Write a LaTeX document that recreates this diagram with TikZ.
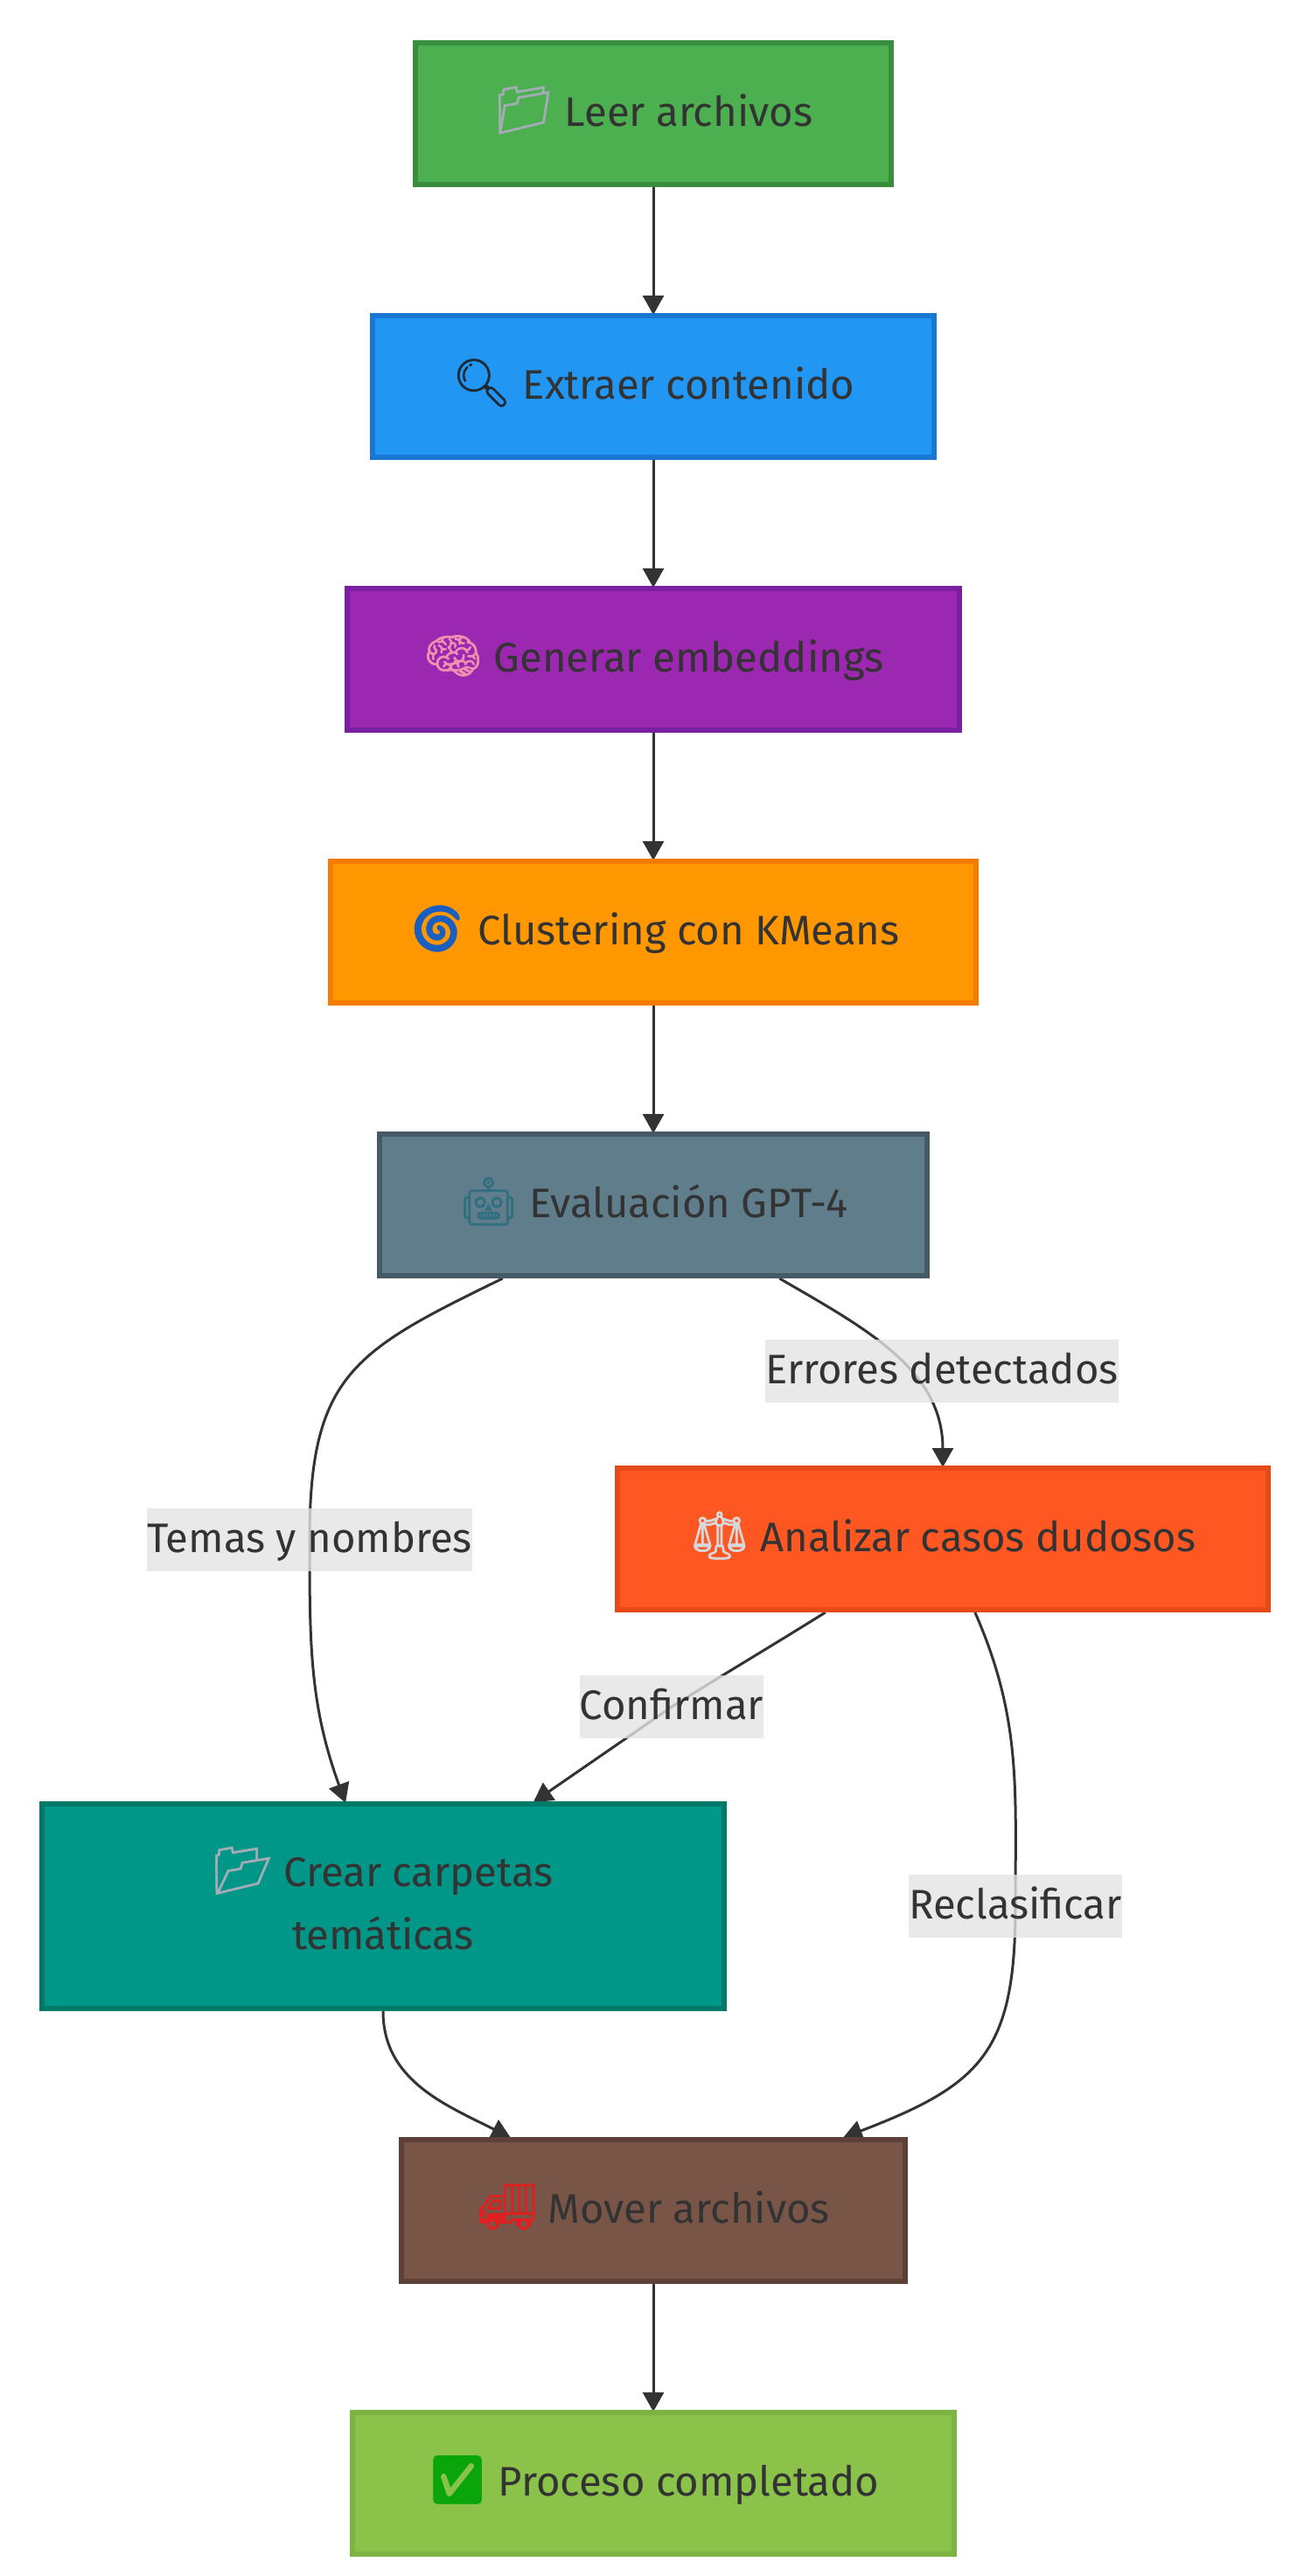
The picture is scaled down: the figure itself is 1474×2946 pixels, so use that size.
\documentclass[tikz,border=0pt]{standalone}
\usepackage{fontspec}
\setmainfont{Fira Sans}
\newfontfamily\emojifont[FakeBold=1.2]{Noto Emoji}
\usetikzlibrary{arrows.meta,backgrounds}
\definecolor{inkgray}{HTML}{333333}
\newcommand{\emoticon}[2]{\smash{\emojifont\fontsize{27}{36}\selectfont\textcolor[HTML]{#1}{#2}}}
\tikzstyle{procbox}=[draw,line width=3pt,minimum height=81pt,align=center,
  text=inkgray,font=\fontsize{23.6}{36}\selectfont,execute at begin node=\strut]
\tikzstyle{edgelabel}=[fill=black!11,fill opacity=0.8,text opacity=1,inner xsep=0pt,
  inner ysep=0pt,minimum height=35.5pt,text=inkgray,font=\fontsize{23.6}{36}\selectfont,execute at begin node=\strut]
\tikzstyle{flowline}=[-{Triangle[length=11pt,width=12pt]},shorten >=-1pt,draw=inkgray,line width=1.5pt]
\tikzstyle{every edge}=[flowline]
\begin{document}
\begin{tikzpicture}[x=0.5pt,y=-0.5pt]
        \useasboundingbox (0,0) rectangle (1474,2946);
        % Main column:
        \node (leer) [procbox,fill={rgb,255:red,76;green,175;blue,80},draw={rgb,255:red,56;green,142;blue,60},minimum width=272pt] at (747,130) {\emoticon{A4ACB6}{📁} Leer archivos};
        \node (extraer) [procbox,fill={rgb,255:red,33;green,150;blue,243},draw={rgb,255:red,25;green,118;blue,210},minimum width=321pt] at (747,442) {\emoticon{1E2A33}{🔍} Extraer contenido};
        \node (generar) [procbox,fill={rgb,255:red,156;green,39;blue,176},draw={rgb,255:red,123;green,31;blue,162},minimum width=350pt] at (747,754) {\emoticon{F090B0}{🧠} Generar embeddings};
        \node (cluster) [procbox,fill={rgb,255:red,255;green,152;blue,0},draw={rgb,255:red,245;green,124;blue,0},minimum width=369pt] at (747,1066) {\emoticon{1A5FC0}{🌀} Clustering con KMeans};
        \node (evalua) [procbox,fill={rgb,255:red,96;green,125;blue,139},draw={rgb,255:red,69;green,90;blue,100},minimum width=313pt] at (747,1378) {\emoticon{2F6F80}{🤖} Evaluación GPT-4};
        % Branches:
        \node (analiza) [procbox,fill={rgb,255:red,255;green,87;blue,34},draw={rgb,255:red,230;green,74;blue,25},minimum width=372pt] at (1078,1760) {\emoticon{D5D9DD}{⚖} Analizar casos dudosos};
        \node (crear) [procbox,execute at begin node={},fill={rgb,255:red,0;green,150;blue,136},draw={rgb,255:red,0;green,121;blue,107},minimum width=390pt,minimum height=117pt] at (438,2180) {\rule{0pt}{24.5pt}\smash{\emoticon{A4ACB6}{📂} Crear carpetas}\\temáticas};
        % Last two:
        \node (mover) [procbox,fill={rgb,255:red,121;green,85;blue,72},draw={rgb,255:red,93;green,64;blue,55},minimum width=288pt] at (747,2528) {\emoticon{E02020}{🚚} Mover archivos};
        \node (fin) [procbox,fill={rgb,255:red,139;green,195;blue,74},draw={rgb,255:red,124;green,179;blue,66},minimum width=344pt] at (747,2840) {\emoticon{0AA50A}{✅} Proceso completado};
        % Labels:
        \node (errores) [edgelabel] at (1077,1568) {Errores detectados};
        \node (temas) [edgelabel] at (354,1761) {Temas y nombres};
        \node (confirma) [edgelabel] at (768,1952) {Confirmar};
        \node (reclas) [edgelabel] at (1161,2180) {Reclasificar};

        \begin{scope}[on background layer]
        \path
        (leer) edge (extraer)
        (extraer) edge (generar)
        (generar) edge (cluster)
        (cluster) edge (evalua)
        (evalua) edge [out=-30.5,in=90] (analiza)
        (mover) edge (fin)
        (crear.south) edge [out=-90,in=153] (mover);

        \draw[flowline]
        (evalua) to [out=-154,in=90,looseness=1.3] (temas.center) to [out=-90,in=110] (crear);
        \draw[flowline]
        (analiza) to [out=-148,in=32] (confirma.center) -- (crear);
        \draw[flowline]
        (analiza) to [out=-66.5,in=90] (reclas.center) to [out=-90,in=21,looseness=1.3] (mover);
        \end{scope}
\end{tikzpicture}
\end{document}
